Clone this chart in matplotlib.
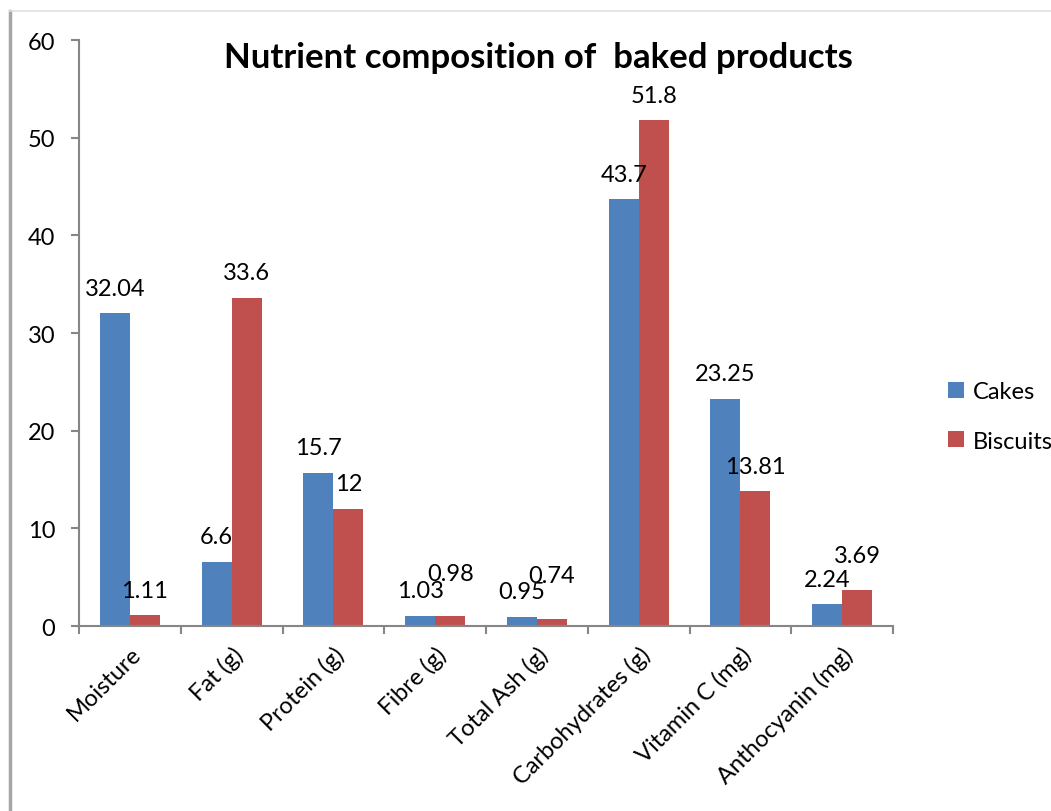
import numpy as np
import matplotlib.pyplot as plt
from matplotlib.lines import Line2D

# data
categories = ['Moisture', 'Fat (g)', 'Protein (g)', 'Fibre (g)', 'Total Ash (g)',
              'Carbohydrates (g)', 'Vitamin C (mg)', 'Anthocyanin (mg)']
cakes = [32.04, 6.6, 15.7, 1.03, 0.95, 43.7, 23.25, 2.24]
biscuits = [1.11, 33.6, 12, 0.98, 0.74, 51.8, 13.81, 3.69]
cake_labels = ['32.04', '6.6', '15.7', '1.03', '0.95', '43.7', '23.25', '2.24']
biscuit_labels = ['1.11', '33.6', '12', '0.98', '0.74', '51.8', '13.81', '3.69']

plt.rcParams['font.family'] = ['Lato', 'DejaVu Sans']
fs = 17

fig = plt.figure(figsize=(10.51, 8.12), dpi=100)
ax = fig.add_axes([0.0752, 0.2278, 0.7745, 0.7217])

x = np.arange(len(categories))
w = 0.295
ax.bar(x - w/2, cakes, w, color='#4F81BD', label='Cakes')
ax.bar(x + w/2, biscuits, w, color='#C0504D', label='Biscuits')

# data labels (biscuit label moved up where it would run into the cake label)
for i in range(len(categories)):
    ax.annotate(cake_labels[i], (x[i] - w/2, cakes[i]), xytext=(0, 18), textcoords='offset points',
                ha='center', va='center', fontsize=fs, color='black')
    diff = abs(cakes[i] - biscuits[i])
    extra = 13 if diff < 0.5 else (7 if diff < 2 else 0)
    ax.annotate(biscuit_labels[i], (x[i] + w/2, biscuits[i]), xytext=(0, 18 + extra), textcoords='offset points',
                ha='center', va='center', fontsize=fs, color='black')

ax.set_xlim(-0.5, len(categories) - 0.5)
ax.set_ylim(0, 60)
ax.set_yticks(range(0, 61, 10))
ax.set_xticks(np.arange(-0.5, len(categories), 1))
ax.set_xticklabels([])
ax.set_xticks(x, minor=True)
ax.set_xticklabels(categories, minor=True, rotation=45, ha='right', va='top',
                   rotation_mode='anchor', fontsize=fs)
ax.tick_params(axis='x', which='minor', length=0, pad=12)
ax.tick_params(axis='x', which='major', length=6, width=1.5, color='#868686')
ax.tick_params(axis='y', length=6, width=1.5, color='#868686', labelsize=fs, pad=11)

for s in ['top', 'right']:
    ax.spines[s].set_visible(False)
for s in ['left', 'bottom']:
    ax.spines[s].set_color('#868686')
    ax.spines[s].set_linewidth(1.5)

fig.text(0.512, 0.928, 'Nutrient composition of  baked products', ha='center', va='center',
         fontsize=25, fontweight='bold')

fig.legend(loc='center left', bbox_to_anchor=(0.882, 0.486), frameon=False, fontsize=fs,
           handlelength=0.65, handleheight=0.65, labelspacing=1.2, handletextpad=0.4)

# chart border (only left and top visible in the crop)
fig.add_artist(Line2D([0.0095, 0.0095], [0, 0.985], color='#a6a6a6', lw=2.5))
fig.add_artist(Line2D([0.0095, 1], [0.985, 0.985], color='#e0e0e0', lw=1.2))

fig.savefig('out.png', dpi=100)
